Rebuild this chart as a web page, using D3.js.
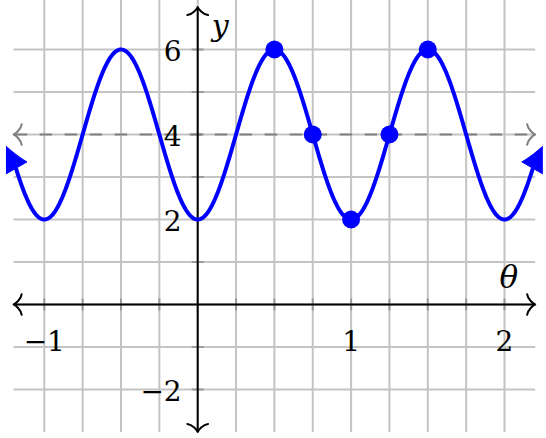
<!DOCTYPE html>
<html><head><meta charset="utf-8">
<script src="https://cdn.jsdelivr.net/npm/d3@7"></script>
<style>html,body{margin:0;padding:0;background:#fff;}svg{display:block;}</style>
</head><body>
<svg id="chart" width="546" height="438"></svg>
<script>
// ---- data ----
const xTickValues = [-1, 1, 2];
const xTickLabels = ["\u22121", "1", "2"];
const yTickValues = [-2, 2, 4, 6];
const yTickLabels = ["\u22122", "2", "4", "6"];
const xGridValues = [-1, -0.75, -0.5, -0.25, 0, 0.25, 0.5, 0.75, 1, 1.25, 1.5, 1.75, 2];
const yGridValues = [-2, -1, 0, 1, 2, 3, 4, 5, 6];
const pointX = [0.5, 0.75, 1, 1.25, 1.5];
const pointY = [6, 4, 2, 4, 6];
// curve y = midline - amplitude * cos(2*pi*theta/period)
const curveMidline = [4];
const curveAmplitude = [2];
const curvePeriod = [1];
const curveDomain = [-1.185, 2.185];
const dashedLevel = [4];

const W = 546, H = 438;
const x = d3.scaleLinear().domain([-1, 2]).range([44.3, 504.5]);
const y = d3.scaleLinear().domain([-2, 6]).range([389.5, 49.5]);
const svg = d3.select("#chart");

const f = t => curveMidline[0] - curveAmplitude[0] * Math.cos(2 * Math.PI * t / curvePeriod[0]);

// clip
svg.append("clipPath").attr("id", "clip").append("rect")
  .attr("x", x(-1.25)).attr("y", -10).attr("width", x(2.25) - x(-1.25)).attr("height", H + 20);

// grid
const grid = svg.append("g").attr("stroke", "#c4c4c4").attr("stroke-width", 2);
grid.selectAll("line.v").data(xGridValues).join("line")
  .attr("x1", d => x(d)).attr("x2", d => x(d)).attr("y1", y(7.2)).attr("y2", y(-3));
grid.selectAll("line.h").data(yGridValues).join("line")
  .attr("x1", x(-1.2)).attr("x2", x(2.2)).attr("y1", d => y(d)).attr("y2", d => y(d));

// tick marks on axes
const tk = svg.append("g").attr("stroke", "#9a9a9a").attr("stroke-width", 2);
tk.selectAll("line.xt").data(xGridValues.filter(d => d !== 0)).join("line")
  .attr("x1", d => x(d)).attr("x2", d => x(d)).attr("y1", y(0) - 6).attr("y2", y(0) + 6);
tk.selectAll("line.yt").data(yGridValues.filter(d => d !== 0)).join("line")
  .attr("y1", d => y(d)).attr("y2", d => y(d)).attr("x1", x(0) - 6).attr("x2", x(0) + 6);

// "to" arrow tip helper
function toArrow(g, tx, ty, ang, color) {
  const d = 2.3;
  const c = Math.cos(ang), s = Math.sin(ang);
  const P = (u, v) => [tx + u * c - v * s, ty + u * s + v * c];
  const p = (a) => a.join(",");
  const path = `M${p(P(-3.5*d, 4.5*d))} C${p(P(-3.25*d, 2.25*d))} ${p(P(-0.75*d, 0.25*d))} ${p(P(0, 0))}` +
               ` C${p(P(-0.75*d, -0.25*d))} ${p(P(-3.25*d, -2.25*d))} ${p(P(-3.5*d, -4.5*d))}`;
  g.append("path").attr("d", path).attr("fill", "none").attr("stroke", color)
    .attr("stroke-width", 2).attr("stroke-linecap", "round").attr("stroke-linejoin", "round");
}

// dashed line
const dl = svg.append("g");
dl.append("line").attr("x1", x(-1.2) + 1).attr("x2", x(2.2) - 1)
  .attr("y1", y(dashedLevel[0])).attr("y2", y(dashedLevel[0]))
  .attr("stroke", "#808080").attr("stroke-width", 2).attr("stroke-dasharray", "12.5 12.5");
toArrow(dl, x(-1.2), y(dashedLevel[0]), Math.PI, "#808080");
toArrow(dl, x(2.2), y(dashedLevel[0]), 0, "#808080");

// axes
const ax = svg.append("g");
ax.append("line").attr("x1", x(-1.2) + 1).attr("x2", x(2.2) - 1).attr("y1", y(0)).attr("y2", y(0))
  .attr("stroke", "#000").attr("stroke-width", 2);
ax.append("line").attr("x1", x(0)).attr("x2", x(0)).attr("y1", y(7) + 1).attr("y2", y(-3) - 1)
  .attr("stroke", "#000").attr("stroke-width", 2);
toArrow(ax, x(-1.2), y(0), Math.PI, "#000");
toArrow(ax, x(2.2), y(0), 0, "#000");
toArrow(ax, x(0), y(7), -Math.PI / 2, "#000");
toArrow(ax, x(0), y(-3), Math.PI / 2, "#000");

// curve
const cg = svg.append("g").attr("clip-path", "url(#clip)");
const samples = d3.range(0, 681).map(i => curveDomain[0] + (curveDomain[1] - curveDomain[0]) * i / 680);
cg.append("path").datum(samples)
  .attr("d", d3.line().x(d => x(d)).y(d => y(f(d))))
  .attr("fill", "none").attr("stroke", "#0000ff").attr("stroke-width", 4).attr("stroke-linejoin", "round");

// latex arrows at curve ends
function latexArrow(g, bx, by, ang) {
  const d = 3.4;
  const c = Math.cos(ang), s = Math.sin(ang);
  const P = (u, v) => [bx + (u + d) * c - v * s, by + (u + d) * s + v * c];
  const p = (a) => a.join(",");
  const path = `M${p(P(9*d, 0))} C${p(P(6.333*d, 0.5*d))} ${p(P(2*d, 2*d))} ${p(P(-1*d, 3.75*d))}` +
               ` L${p(P(-1*d, -3.75*d))} C${p(P(2*d, -2*d))} ${p(P(6.333*d, -0.5*d))} ${p(P(9*d, 0))}Z`;
  g.append("path").attr("d", path).attr("fill", "#0000ff").attr("stroke", "#0000ff").attr("stroke-width", 1);
}
const arrowAngle = 60 * Math.PI / 180;
latexArrow(cg, x(curveDomain[0]), y(f(curveDomain[0])), Math.PI + arrowAngle);
latexArrow(cg, x(curveDomain[1]), y(f(curveDomain[1])), -arrowAngle);

// points
svg.append("g").selectAll("circle").data(pointX).join("circle")
  .attr("cx", d => x(d)).attr("cy", (d, i) => y(pointY[i])).attr("r", 9).attr("fill", "#0000ff");

// tick labels
const font = "'DejaVu Serif', 'Liberation Serif', serif";
svg.append("g").selectAll("text").data(xTickValues).join("text")
  .attr("x", d => x(d)).attr("y", y(0) + 46).attr("text-anchor", "middle")
  .attr("font-family", font).attr("font-size", 28).attr("fill", "#000")
  .text((d, i) => xTickLabels[i]);
svg.append("g").selectAll("text").data(yTickValues).join("text")
  .attr("x", x(0) - 16).attr("y", d => y(d) + 11).attr("text-anchor", "end")
  .attr("font-family", font).attr("font-size", 28).attr("fill", "#000")
  .text((d, i) => yTickLabels[i]);

// axis labels
svg.append("text").attr("x", x(0) + 14).attr("y", y(7) + 29)
  .attr("font-family", font).attr("font-style", "italic").attr("font-size", 30).text("y");
svg.append("text").attr("x", x(2) - 5).attr("y", y(0) - 17)
  .attr("font-family", font).attr("font-style", "italic").attr("font-size", 31).text("\u03b8");
</script>
</body></html>
